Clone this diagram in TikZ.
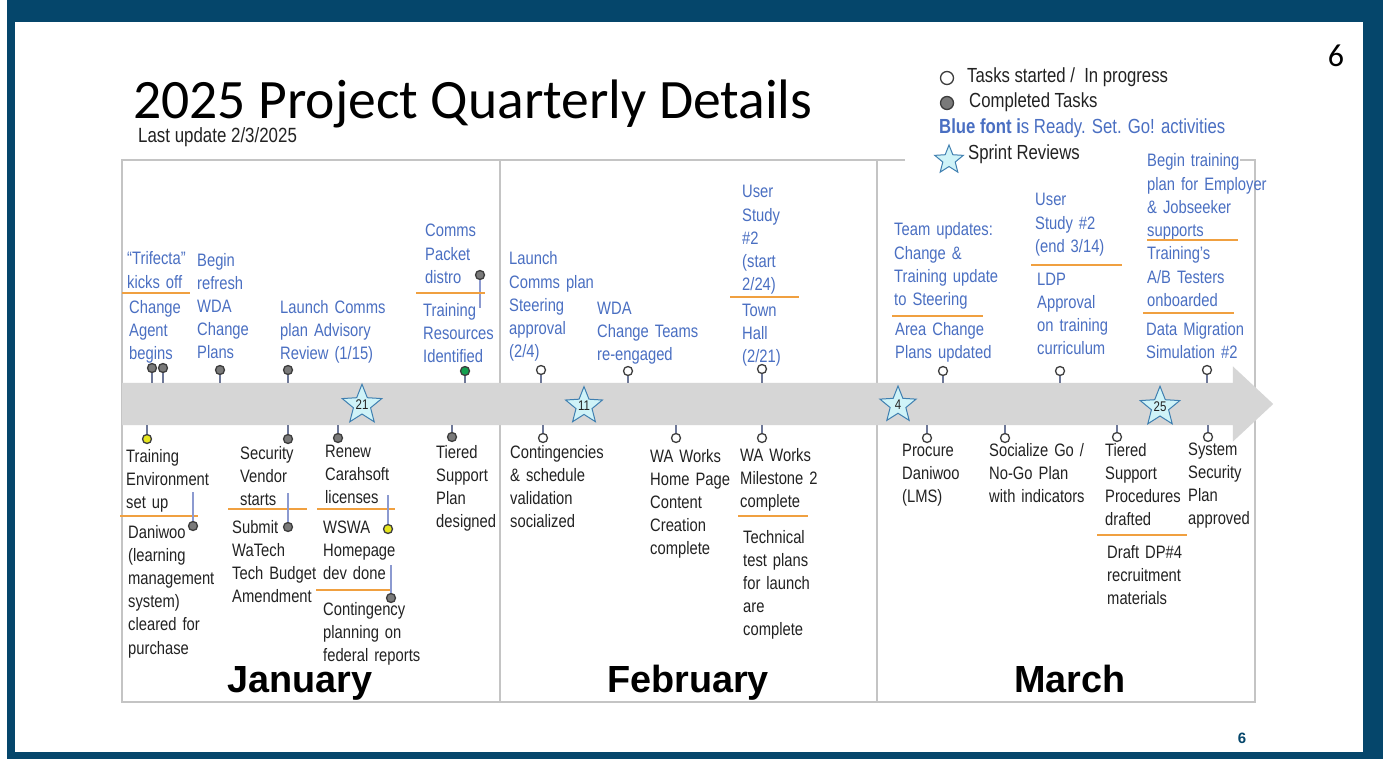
\documentclass[tikz,border=0pt]{standalone}
\usepackage{fontspec}
\setmainfont[FakeStretch=0.82]{Liberation Sans}
\newfontfamily\monthfont{Liberation Sans}
\newfontfamily\titlefont{Carlito}
\usetikzlibrary{shapes.geometric, shapes.arrows, positioning}

\definecolor{slideblue}{HTML}{05466B}
\definecolor{cellgray}{HTML}{C4C4C4}
\definecolor{bargray}{HTML}{D6D6D6}
\definecolor{itemblue}{HTML}{4A6FC2}
\definecolor{itemblack}{HTML}{222222}
\definecolor{sepOrange}{HTML}{F0A040}
\definecolor{linkblue}{HTML}{8C9AD0}
\definecolor{stemgray}{HTML}{6E7898}
\definecolor{dotedge}{HTML}{3D3D3D}
\definecolor{donegray}{HTML}{7A7A7A}
\definecolor{yellowdot}{HTML}{E6E61E}
\definecolor{greendot}{HTML}{14A050}
\definecolor{starfill}{HTML}{CFF3F8}
\definecolor{staredge}{HTML}{3F7FB0}

\tikzstyle{bluetext} = [anchor=base west, inner sep=0pt, text width=200pt, align=left, text=itemblue, font=\fontsize{18}{23.2}\selectfont]
\tikzstyle{blacktext} = [bluetext, text=itemblack]
\tikzstyle{legendtext} = [anchor=base west, inner sep=0pt, text=itemblack, font=\fontsize{20.4}{22}\selectfont]
\tikzstyle{monthlabel} = [anchor=base, inner sep=0pt, text=black, font=\monthfont\bfseries\fontsize{37.8}{40}\selectfont]
\tikzstyle{taskdot} = [circle, draw=dotedge, line width=1.3pt, minimum size=9pt, inner sep=0pt]
\tikzstyle{donedot} = [taskdot, fill=donegray]
\tikzstyle{opendot} = [taskdot, fill=white]
\tikzstyle{stemline} = [line width=1.3pt, draw=stemgray]
\tikzstyle{linkline} = [line width=1.5pt, draw=linkblue]
\tikzstyle{sepline} = [line width=2pt, draw=sepOrange]
\tikzstyle{cellline} = [line width=2pt, draw=cellgray]
\tikzstyle{sprint} = [star, star points=5, star point ratio=2.3, draw=staredge, fill=starfill, line width=1pt, minimum size=38pt, inner sep=0pt, text=itemblack, font=\fontsize{14}{14}\selectfont]

\begin{document}
\begin{tikzpicture}[x=1pt, y=-1pt]
  \useasboundingbox (0,0) rectangle (1383,759);
  \fill[white] (0,0) rectangle (1383,759);
  \fill[slideblue] (7,0) rectangle (1383,759);
  \fill[white] (15,22) rectangle (1363,752);

  \node[anchor=base west, inner sep=0pt, font=\titlefont\fontsize{55.6}{60}\selectfont] (title) at (133,119) {2025 Project Quarterly Details};
  \node[anchor=base west, inner sep=0pt, text=itemblack, font=\fontsize{20.6}{22}\selectfont] (updated) at (138,143) {Last update 2/3/2025};
  \node[anchor=base, inner sep=0pt, font=\titlefont\fontsize{32}{32}\selectfont] (pagenum) at (1336,67) {6};
  \node[anchor=base, inner sep=0pt, text=slideblue, font=\monthfont\bfseries\fontsize{15}{15}\selectfont] (footnum) at (1242,743) {6};

  % legend
  \node[opendot, minimum size=13pt] (lgopen) at (947,78) {};
  \node[legendtext] (lgopentxt) at (967,83) {Tasks started /\ \ In progress};
  \node[donedot, minimum size=13pt] (lgdone) at (947,103) {};
  \node[legendtext] (lgdonetxt) at (969,108) {Completed Tasks};
  \node[legendtext, text=itemblue] (lgblue) at (939,134) {\textbf{Blue font i}s Ready. Set. Go! activities};
  \node[sprint, minimum size=30pt] (lgstar) at (949,160) {};
  \node[legendtext] (lgstartxt) at (968,160) {Sprint Reviews};

  % month cells
  \draw[cellline] (905,160) -- (122,160) -- (122,702) -- (1255,702) -- (1255,160) -- (1240,160);
  \draw[cellline] (500,160) -- (500,702);
  \draw[cellline] (877,160) -- (877,702);
  \node[monthlabel] (janlbl) at (300,692) {January};
  \node[monthlabel] (feblbl) at (688,692) {February};
  \node[monthlabel] (marlbl) at (1070,692) {March};

  \node[single arrow, anchor=tail, fill=bargray, inner sep=21pt, minimum height=1151pt, single arrow head extend=16.5pt, single arrow tip angle=86] (timeline) at (122,404) {};

  \node[sprint] (sprint21) at (362,405) {21};
  \node[sprint] (sprint11) at (584,406) {11};
  \node[sprint] (sprint4) at (898,405) {4};
  \node[sprint] (sprint25) at (1160,407) {25};

  % above the bar
  \node[bluetext] (trifecta) at (127,265) {“Trifecta”\\kicks off};
  \draw[sepline] (122,293) -- (190,293);
  \node[bluetext] (agent) at (129,313) {Change\\Agent\\begins};
  \node[donedot] (trifectadot) at (152,368) {};
  \node[donedot] (agentdot) at (163,368) {};
  \node[bluetext] (wdaplans) at (197,266) {Begin\\refresh\\WDA\\Change\\Plans};
  \node[donedot] (wdaplansdot) at (220,370) {};
  \node[bluetext] (advisory) at (280,313) {Launch Comms\\plan Advisory\\Review (1/15)};
  \node[donedot] (advisorydot) at (288,370) {};
  \node[bluetext] (packet) at (425,237) {Comms\\Packet\\distro};
  \node[donedot] (packetdot) at (480,275) {};
  \draw[linkline] (packetdot) -- ++(0,33);
  \draw[sepline] (416,293) -- (485,293);
  \node[bluetext] (resources) at (423,316) {Training\\Resources\\Identified};
  \node[taskdot, fill=greendot] (resourcesdot) at (465,371) {};

  \node[bluetext] (steering) at (509,265) {Launch\\Comms plan\\Steering\\approval\\(2/4)};
  \node[opendot] (steeringdot) at (541,370) {};
  \node[bluetext] (teams) at (597,314) {WDA\\Change Teams\\re-engaged};
  \node[opendot] (teamsdot) at (628,371) {};
  \node[bluetext] (study) at (742,198) {User\\Study\\\#2\\(start\\2/24)};
  \draw[sepline] (730,297) -- (799,297);
  \node[bluetext] (townhall) at (742,316) {Town\\Hall\\(2/21)};
  \node[opendot] (townhalldot) at (762,369) {};

  \node[bluetext] (teamupd) at (894,236) {Team updates:\\Change \&\\Training update\\to Steering};
  \draw[sepline] (892,316) -- (983,316);
  \node[bluetext] (areaplans) at (895,335) {Area Change\\Plans updated};
  \node[opendot] (areaplansdot) at (943,371) {};
  \node[bluetext] (studyend) at (1035,206) {User\\Study \#2\\(end 3/14)};
  \draw[sepline] (1031,265) -- (1122,265);
  \node[bluetext] (ldp) at (1037,285) {LDP\\Approval\\on training\\curriculum};
  \node[opendot] (ldpdot) at (1060,371) {};
  \node[bluetext] (trainplan) at (1147,167) {Begin training\\plan for Employer\\\& Jobseeker\\supports};
  \draw[sepline] (1147,240) -- (1238,240);
  \node[bluetext] (testers) at (1147,260) {Training’s\\A/B Testers\\onboarded};
  \draw[sepline] (1143,313) -- (1234,313);
  \node[bluetext] (migration) at (1146,335) {Data Migration\\Simulation \#2};
  \node[opendot] (migrationdot) at (1207,370) {};

  \foreach \d in {trifectadot,agentdot,wdaplansdot,advisorydot,resourcesdot,steeringdot,teamsdot,townhalldot,areaplansdot,ldpdot,migrationdot}
    \draw[stemline] (\d) -- (\d |- timeline.north);

  % below the bar
  \node[taskdot, fill=yellowdot] (envdot) at (147,439) {};
  \node[blacktext] (env) at (126,462) {Training\\Environment\\set up};
  \draw[sepline] (120,516) -- (198,516);
  \node[donedot] (lmsdot) at (193,526) {};
  \draw[linkline] (lmsdot) -- ++(0,-34);
  \node[blacktext] (lms) at (128,538) {Daniwoo\\(learning\\management\\system)\\cleared for\\purchase};
  \node[donedot] (vendordot) at (288,439) {};
  \node[blacktext] (vendor) at (240,459) {Security\\Vendor\\starts};
  \draw[sepline] (228,509) -- (307,509);
  \node[donedot] (budgetdot) at (288,527) {};
  \draw[linkline] (budgetdot) -- ++(0,-34);
  \node[blacktext] (budget) at (232,533) {Submit\\WaTech\\Tech Budget\\Amendment};
  \node[donedot] (licensedot) at (338,438) {};
  \node[blacktext] (license) at (325,457) {Renew\\Carahsoft\\licenses};
  \draw[sepline] (317,509) -- (395,509);
  \node[taskdot, fill=yellowdot] (homepagedot) at (388,529) {};
  \draw[linkline] (homepagedot) -- ++(0,-34);
  \node[blacktext] (homepage) at (323,533) {WSWA\\Homepage\\dev done};
  \draw[sepline] (316,590) -- (392,590);
  \node[donedot] (federaldot) at (391,598) {};
  \draw[linkline] (federaldot) -- ++(0,-33);
  \node[blacktext] (federal) at (323,615) {Contingency\\planning on\\federal reports};
  \node[donedot] (tieredplandot) at (452,437) {};
  \node[blacktext] (tieredplan) at (436,458) {Tiered\\Support\\Plan\\designed};

  \node[opendot] (validationdot) at (543,438) {};
  \node[blacktext] (validation) at (510,458) {Contingencies\\\& schedule\\validation\\socialized};
  \node[opendot] (contentdot) at (676,438) {};
  \node[blacktext] (content) at (650,462) {WA Works\\Home Page\\Content\\Creation\\complete};
  \node[opendot] (milestonedot) at (762,438) {};
  \node[blacktext] (milestone) at (740,461) {WA Works\\Milestone 2\\complete};
  \draw[sepline] (738,516) -- (808,516);
  \node[blacktext] (testplans) at (743,543) {Technical\\test plans\\for launch\\are\\complete};

  \node[opendot] (lmsbuydot) at (927,438) {};
  \node[blacktext] (lmsbuy) at (902,456) {Procure\\Daniwoo\\(LMS)};
  \node[opendot] (nogodot) at (1005,438) {};
  \node[blacktext] (nogo) at (989,456) {Socialize Go /\\No-Go Plan\\with indicators};
  \node[opendot] (proceduresdot) at (1117,437) {};
  \node[blacktext] (procedures) at (1105,456) {Tiered\\Support\\Procedures\\drafted};
  \draw[sepline] (1097,535) -- (1187,535);
  \node[blacktext] (recruit) at (1107,558) {Draft DP\#4\\recruitment\\materials};
  \node[opendot] (sspdot) at (1208,437) {};
  \node[blacktext] (ssp) at (1188,455) {System\\Security\\Plan\\approved};

  \foreach \d in {envdot,vendordot,licensedot,tieredplandot,validationdot,contentdot,milestonedot,lmsbuydot,nogodot,proceduresdot,sspdot}
    \draw[stemline] (\d) -- (\d |- timeline.south);
\end{tikzpicture}
\end{document}
